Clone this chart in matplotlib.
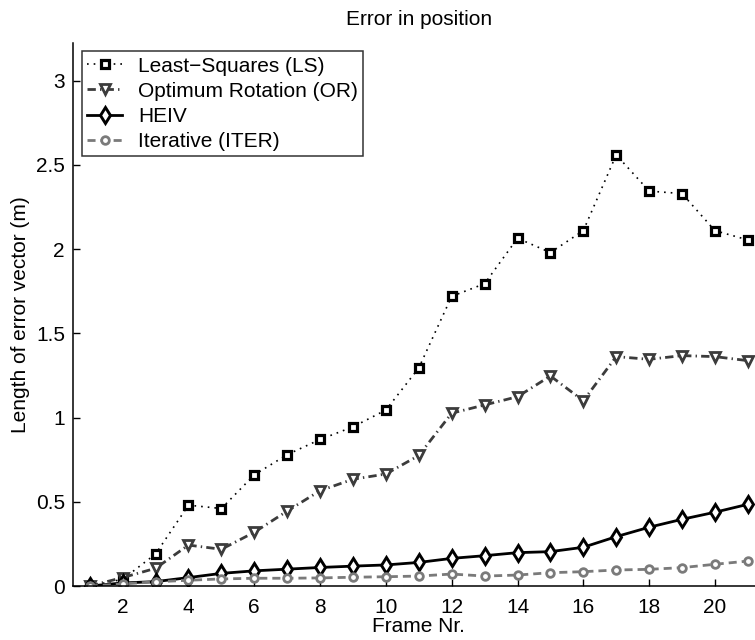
import matplotlib
matplotlib.use("Agg")
import matplotlib.pyplot as plt
from matplotlib.ticker import FormatStrFormatter

plt.rcParams["font.family"] = ["Liberation Sans", "DejaVu Sans"]

frames = list(range(1, 22))
ls_err = [0.0, 0.04, 0.19, 0.48, 0.46, 0.66, 0.78, 0.87, 0.945, 1.045, 1.295,
          1.72, 1.795, 2.065, 1.98, 2.11, 2.56, 2.345, 2.33, 2.11, 2.055]
or_err = [0.0, 0.05, 0.105, 0.243, 0.218, 0.319, 0.445, 0.566, 0.634, 0.665, 0.775,
          1.026, 1.075, 1.124, 1.247, 1.10, 1.362, 1.346, 1.368, 1.362, 1.338]
heiv_err = [0.0, 0.018, 0.026, 0.05, 0.075, 0.09, 0.10, 0.11, 0.118, 0.125, 0.14,
            0.164, 0.18, 0.198, 0.204, 0.23, 0.293, 0.349, 0.396, 0.438, 0.485]
iter_err = [0.0, 0.012, 0.025, 0.034, 0.042, 0.046, 0.046, 0.048, 0.052, 0.055, 0.059,
            0.071, 0.059, 0.065, 0.079, 0.085, 0.095, 0.099, 0.109, 0.129, 0.148]

fs = 15

fig = plt.figure(figsize=(7.55, 6.4), dpi=100)
ax = fig.add_axes([73.3 / 755, 54 / 640, 691 / 755, 543.3 / 640])

ax.plot(frames, ls_err, linestyle=(0, (1, 3)), color="black", lw=1.2,
        marker="s", ms=5.2, mfc="white", mec="black", mew=2.3,
        label="Least\u2212Squares (LS)")
ax.plot(frames, or_err, linestyle=(0, (3, 1.5, 0.5, 1.5)), color="#3c3c3c", lw=2,
        marker="v", ms=7.5, mfc="white", mec="#3c3c3c", mew=2,
        label="Optimum Rotation (OR)")
ax.plot(frames, heiv_err, linestyle="-", color="black", lw=2,
        marker="d", ms=8, mfc="white", mec="black", mew=2.1,
        label="HEIV")
ax.plot(frames, iter_err, linestyle=(0, (2.9, 1.8)), color="#7a7a7a", lw=2,
        marker="o", ms=5.5, mfc="white", mec="#7a7a7a", mew=2,
        label="Iterative (ITER)")

ax.set_xlim(0.5, 21.5)
ax.set_ylim(0, 3.226)
ax.set_xticks(range(2, 21, 2))
ax.set_yticks([0, 0.5, 1, 1.5, 2, 2.5, 3])
ax.yaxis.set_major_formatter(FormatStrFormatter("%g"))
ax.tick_params(direction="in", length=5, width=1, labelsize=fs, colors="black")
ax.tick_params(axis="y", pad=6)
ax.tick_params(axis="x", pad=8.5)
for side in ["top", "right"]:
    ax.spines[side].set_visible(False)
for side in ["left", "bottom"]:
    ax.spines[side].set_linewidth(1.1)

ax.set_title("Error in position", fontsize=fs, pad=13)
ax.set_xlabel("Frame Nr.", fontsize=fs, labelpad=0)
ax.set_ylabel("Length of error vector (m)", fontsize=fs, labelpad=4)

leg = ax.legend(loc="upper left", bbox_to_anchor=(8.4 / 691, 1 - 8.6 / 543.3),
                fontsize=fs, frameon=True, fancybox=False, borderaxespad=0,
                handlelength=1.7, handletextpad=0.75, labelspacing=0.3,
                borderpad=0.25)
leg.get_frame().set_edgecolor("black")
leg.get_frame().set_linewidth(1.1)

fig.savefig("out.png", dpi=100)
